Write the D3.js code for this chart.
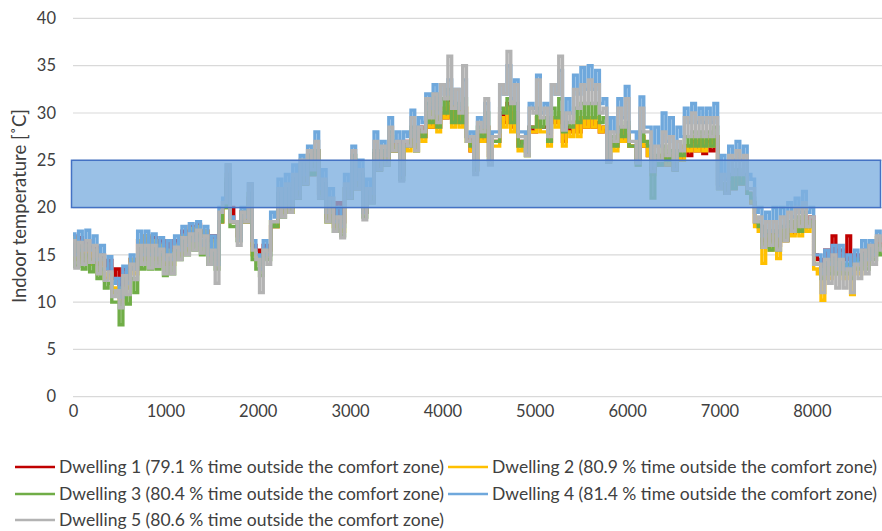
<!DOCTYPE html>
<html>
<head>
<meta charset="utf-8">
<script src="https://cdn.jsdelivr.net/npm/d3@7/dist/d3.min.js"></script>
<style>
  html, body { margin: 0; padding: 0; background: #fff; }
  svg { display: block; }
  text { font-family: Lato, "Open Sans", sans-serif; fill: #404040; }
</style>
</head>
<body>
<svg id="chart" width="882" height="531"></svg>
<script>
// Indoor temperature over one year for five dwellings (°C, one value every 40 h)
const yTicks = [0, 5, 10, 15, 20, 25, 30, 35, 40];
const xTicks = [0, 1000, 2000, 3000, 4000, 5000, 6000, 7000, 8000];
const comfortZone = [20, 25];
const stepHours = 40;

const seriesNames = [
  "Dwelling 1 (79.1 % time outside the comfort zone)",
  "Dwelling 2 (80.9 % time outside the comfort zone)",
  "Dwelling 3 (80.4 % time outside the comfort zone)",
  "Dwelling 4 (81.4 % time outside the comfort zone)",
  "Dwelling 5 (80.6 % time outside the comfort zone)"
];
const seriesColors = ["#c00000", "#ffc000", "#70ad47", "#6fa8dc", "#b3b3b3"];

const dwelling1 = [
  17.0,15.0,16.8,14.8,16.5,14.5,15.8,14.0,15.0,13.5,14.4,12.5,13.5,11.8,13.5,12.5,14.5,13.5,16.5,15.0,
  17.0,15.5,16.8,15.5,16.5,15.0,16.5,15.5,16.5,16.0,17.5,16.0,18.0,17.0,18.2,17.0,17.5,16.5,17.0,16.5,
  18.5,20.5,22.5,20.0,18.5,17.0,19.5,18.5,21.0,16.0,15.5,14.0,16.0,15.5,18.0,18.0,21.0,19.5,22.0,20.0,
  23.0,21.5,24.5,22.5,25.5,23.5,26.0,21.5,22.5,19.0,21.0,18.5,20.5,18.5,22.0,21.0,25.0,22.0,23.5,19.5,
  22.0,21.0,25.7,24.0,26.0,25.0,27.0,26.0,27.0,23.5,27.0,26.5,28.0,27.0,28.5,27.5,29.0,28.5,29.5,28.5,
  30.0,29.5,31.2,29.0,30.5,29.0,30.5,27.5,26.0,24.0,28.0,27.0,28.5,25.5,27.0,27.0,30.0,29.0,31.0,28.5,
  30.0,26.5,27.0,26.0,28.5,28.0,29.5,28.5,28.5,27.0,29.5,29.0,30.0,27.0,28.5,28.0,29.0,28.0,29.5,28.5,
  29.5,28.5,29.0,28.0,28.5,25.0,27.0,26.5,28.0,27.0,28.5,26.5,26.5,24.8,27.5,26.5,25.5,24.0,25.0,24.5,
  25.5,24.5,25.5,24.0,25.5,25.0,26.5,25.5,27.0,26.0,27.0,25.7,27.0,26.0,27.5,22.5,22.5,21.5,23.0,22.0,
  23.0,22.5,23.0,21.5,20.5,18.5,18.0,16.5,17.5,16.5,17.5,16.0,17.5,16.5,18.0,17.3,18.5,17.5,19.0,18.0,
  19.0,15.0,14.5,13.8,15.5,14.5,17.0,14.5,15.5,14.5,17.0,14.0,15.0,14.5,15.5,14.5,16.0,15.0,16.5,16.0];

const dwelling2 = [
  16.8,14.5,16.2,14.2,16.0,14.0,15.5,13.0,14.5,12.5,13.0,11.0,11.5,10.0,12.5,11.5,14.5,13.0,16.5,14.5,
  17.0,15.0,16.5,14.5,16.0,14.0,15.5,14.0,16.0,15.0,17.0,15.5,17.8,16.5,18.0,17.0,17.5,15.0,16.5,14.5,
  18.5,20.0,23.5,18.5,18.5,16.5,19.5,18.5,21.5,15.0,14.5,13.5,15.5,15.0,18.5,18.0,21.5,19.5,22.0,19.5,
  23.0,21.0,24.5,22.5,25.5,23.5,26.0,21.5,22.5,18.5,21.0,18.0,19.0,17.5,22.0,21.0,25.0,22.0,23.5,19.5,
  22.0,21.0,25.5,24.0,26.0,24.5,27.5,26.0,26.5,23.5,26.5,26.0,28.0,26.0,28.0,27.0,30.0,28.5,30.5,28.0,
  30.5,29.5,31.0,28.5,30.5,28.5,30.5,27.0,26.0,24.0,28.0,27.0,28.5,25.0,26.5,26.5,29.5,28.5,30.5,28.0,
  30.0,26.0,26.5,25.5,28.0,28.0,29.5,28.0,28.0,26.5,29.5,28.5,30.0,26.5,28.0,27.5,29.0,27.5,29.5,28.5,
  29.5,28.5,29.5,28.0,28.5,24.8,27.0,26.0,28.0,27.0,28.5,26.5,26.5,24.5,27.5,26.5,25.5,23.5,25.0,24.5,
  25.5,24.5,25.5,24.0,25.5,25.0,26.5,26.0,27.5,26.0,27.5,26.0,27.5,26.5,27.5,22.0,22.5,21.5,23.0,22.0,
  23.5,22.5,23.0,21.5,20.5,18.0,17.5,14.1,17.0,15.5,17.0,14.6,17.5,16.5,18.0,17.0,18.5,17.0,19.0,17.5,
  18.5,13.5,13.0,10.2,13.5,12.5,14.5,13.0,14.0,12.5,13.0,10.8,13.5,13.0,15.0,14.0,16.0,15.0,16.8,16.5];

const dwelling3 = [
  16.0,13.8,15.5,13.5,15.0,13.2,14.5,12.5,13.5,11.5,12.0,10.0,10.0,7.6,10.5,9.8,12.5,11.0,15.0,13.5,
  15.5,13.5,15.5,13.5,15.0,12.8,14.8,13.0,15.5,14.5,16.5,15.0,17.0,15.5,17.0,15.0,16.5,14.0,15.5,13.5,
  18.5,20.0,23.0,18.0,18.0,16.5,19.5,18.5,21.5,14.5,13.5,12.8,15.0,14.5,18.5,18.0,21.5,19.0,22.0,19.5,
  23.0,21.0,24.5,22.5,25.5,23.5,26.0,21.0,22.5,18.5,20.5,17.5,18.5,17.0,22.0,21.0,25.5,22.0,23.5,19.0,
  21.5,20.5,26.0,24.0,26.0,24.5,28.0,26.0,26.5,23.0,26.5,26.5,28.5,26.0,28.0,27.5,31.0,29.0,32.0,28.5,
  31.5,30.0,32.5,29.0,31.0,29.0,31.5,27.0,26.5,24.0,28.5,27.5,30.0,25.0,27.0,27.0,30.5,30.0,31.5,29.0,
  31.0,26.5,27.0,25.5,28.5,28.5,30.5,28.5,29.5,27.0,30.5,29.5,31.5,28.0,29.0,28.5,30.5,29.0,31.0,29.5,
  31.0,29.5,31.0,29.0,29.5,24.8,27.5,26.5,28.5,27.5,29.0,26.5,26.5,24.5,28.0,27.0,26.5,21.0,25.5,24.5,
  26.5,25.0,26.0,24.0,26.0,25.5,27.5,26.5,28.0,26.5,28.0,26.5,28.0,26.5,28.5,22.0,22.5,21.5,23.5,22.0,
  24.0,22.5,23.5,21.5,21.0,18.5,18.0,15.8,17.5,15.5,17.5,15.5,18.0,16.5,18.5,17.5,19.0,17.5,19.5,18.0,
  18.5,14.0,14.0,12.5,14.5,13.0,14.5,13.0,14.5,13.0,14.0,12.5,14.5,13.5,15.0,13.5,15.5,14.5,16.0,15.0];

const dwelling4 = [
  17.2,15.0,17.5,15.5,17.6,15.5,17.0,14.5,16.0,13.5,14.8,12.0,12.5,10.5,13.8,12.0,15.0,13.5,17.5,15.0,
  17.5,15.0,17.2,15.0,16.8,14.5,16.5,14.5,17.0,15.5,18.0,16.0,18.3,16.5,18.5,16.0,18.0,15.0,17.0,14.0,
  20.0,21.0,24.5,19.0,18.5,16.5,20.0,19.0,22.5,16.5,15.0,13.5,16.5,15.0,19.5,19.0,23.0,20.0,23.5,20.5,
  24.5,22.0,25.5,23.5,26.5,25.0,28.0,22.0,24.0,19.5,22.0,18.5,20.0,18.0,23.5,22.0,26.5,23.0,25.0,19.5,
  23.0,21.5,28.0,25.0,27.0,25.5,29.5,27.0,28.0,23.5,28.0,27.5,30.3,27.0,29.5,29.0,32.0,30.5,33.0,30.0,
  33.0,32.0,33.5,31.0,32.5,30.5,33.5,27.5,28.0,24.5,29.5,28.5,31.0,25.0,28.0,28.0,33.0,32.0,35.0,31.5,
  33.5,28.0,28.0,26.0,31.0,30.5,34.0,30.0,31.0,28.0,33.0,32.0,34.5,28.5,31.5,30.0,34.0,32.0,34.8,32.5,
  35.0,32.5,34.5,31.0,31.5,25.0,29.5,28.0,31.5,29.5,32.8,28.0,28.0,25.0,31.7,28.5,28.5,24.5,28.5,26.5,
  30.0,27.0,29.5,25.0,28.5,27.5,30.5,29.0,31.0,29.0,30.5,29.0,30.5,29.0,31.0,22.5,25.5,23.0,26.5,25.0,
  27.0,25.0,26.5,23.5,23.0,19.5,20.0,17.0,19.5,17.5,20.0,17.0,20.0,18.0,20.5,19.0,21.0,19.5,21.7,19.5,
  20.0,15.0,15.0,13.0,15.5,14.0,16.0,13.5,16.0,13.5,15.0,13.0,15.5,14.0,16.5,14.5,16.5,15.0,17.5,16.5];

const dwelling5 = [
  16.5,13.6,16.3,14.0,16.5,14.2,16.0,13.0,15.0,12.3,13.2,10.6,11.2,9.4,12.8,10.8,14.0,12.4,16.0,14.0,
  16.0,13.6,16.0,13.8,15.6,13.0,15.0,13.0,15.8,14.5,16.8,15.0,17.2,15.5,17.6,15.2,17.0,14.0,15.5,12.0,
  19.5,20.5,24.5,18.5,18.5,16.0,19.5,18.5,22.5,15.5,14.5,11.0,15.5,14.0,18.5,18.5,22.0,19.0,22.5,19.5,
  23.5,21.0,25.0,22.5,26.0,24.0,27.0,21.0,23.0,18.5,21.0,17.5,19.0,16.8,22.5,21.0,26.0,22.0,24.0,18.7,
  22.0,20.5,27.0,24.0,26.5,24.5,28.5,26.0,27.0,22.8,27.0,26.5,29.5,26.0,28.5,28.0,31.5,29.5,32.0,29.0,
  33.0,31.5,36.0,30.5,32.5,30.0,35.0,27.0,27.5,23.5,29.0,28.0,31.5,24.5,27.5,27.5,33.0,32.0,36.5,31.0,
  33.0,27.5,27.5,25.5,30.5,30.0,33.5,29.5,30.5,27.5,33.0,32.0,36.0,28.2,30.0,29.0,32.5,30.5,33.0,31.0,
  33.5,31.0,33.0,30.0,30.5,24.8,28.0,27.0,30.5,28.5,31.5,27.0,27.0,24.7,30.5,28.0,28.0,23.8,26.5,25.0,
  28.0,25.5,27.5,24.0,27.0,26.0,29.5,27.5,30.0,27.5,29.5,27.5,29.5,27.5,29.5,22.0,23.5,21.5,25.5,23.5,
  26.0,23.5,25.5,22.0,22.0,18.5,19.0,15.8,18.5,16.0,18.5,15.5,19.0,16.5,19.5,17.5,20.0,18.0,20.5,18.0,
  19.0,14.0,14.0,11.0,14.5,12.0,15.0,11.5,14.5,11.5,13.5,11.0,14.0,12.5,15.5,13.0,16.0,14.0,17.0,15.5];

const seriesValues = [dwelling1, dwelling2, dwelling3, dwelling4, dwelling5];

const svg = d3.select("#chart");
const plot = { left: 73, right: 882, top: 18.4, bottom: 396.7 };
const fontStack = "Lato, 'Open Sans', sans-serif";

const x = d3.scaleLinear().domain([0, 8760]).range([plot.left, plot.right]);
const y = d3.scaleLinear().domain([0, 40]).range([plot.bottom, plot.top]);

// Horizontal gridlines
svg.append("g")
  .selectAll("line")
  .data(yTicks)
  .join("line")
  .attr("x1", plot.left).attr("x2", plot.right)
  .attr("y1", d => y(d)).attr("y2", d => y(d))
  .attr("stroke", "#d9d9d9").attr("stroke-width", 1.2);

// Y axis tick labels
const yAxis = d3.axisLeft(y).tickValues(yTicks).tickSize(0).tickPadding(0);
svg.append("g")
  .attr("transform", `translate(${plot.left - 17},0)`)
  .call(yAxis)
  .call(g => g.select(".domain").remove())
  .call(g => g.selectAll("text").style("font-size", "16.5px").attr("fill", "#404040")
    .style("font-family", fontStack));

// X axis tick labels
const xAxis = d3.axisBottom(x).tickValues(xTicks).tickFormat(d3.format("d")).tickSize(0).tickPadding(0);
svg.append("g")
  .attr("transform", `translate(0,${plot.bottom + 9})`)
  .call(xAxis)
  .call(g => g.select(".domain").remove())
  .call(g => g.selectAll("text").style("font-size", "16.5px").attr("fill", "#404040")
    .style("font-family", fontStack));

// Y axis title
svg.append("text")
  .attr("transform", `translate(26,206) rotate(-90)`)
  .attr("text-anchor", "middle")
  .style("font-size", "18.5px")
  .text("Indoor temperature [˚C]");

// Temperature lines as stepped traces (series 1 drawn first, series 5 on top)
const line = d3.line()
  .curve(d3.curveStep)
  .x(d => x(d.h))
  .y(d => y(d.v));

seriesValues.forEach((vals, k) => {
  const pts = vals.map((v, i) => ({ h: i * stepHours, v }));
  svg.append("path")
    .datum(pts)
    .attr("fill", "none")
    .attr("stroke", seriesColors[k])
    .attr("stroke-width", 3.4)
    .attr("stroke-linejoin", "miter")
    .attr("d", line);
});

// Comfort zone band, translucent over the lines
svg.append("rect")
  .attr("x", x(0) - 1.5)
  .attr("y", y(comfortZone[1]))
  .attr("width", x(8760) - x(0))
  .attr("height", y(comfortZone[0]) - y(comfortZone[1]))
  .attr("fill", "#7fb0e0")
  .attr("fill-opacity", 0.8)
  .attr("stroke", "#4472c4")
  .attr("stroke-width", 1.5);

// Legend
const legendItems = [
  { i: 0, col: 0, row: 0 }, { i: 1, col: 1, row: 0 },
  { i: 2, col: 0, row: 1 }, { i: 3, col: 1, row: 1 },
  { i: 4, col: 0, row: 2 }
];
const colX = [15, 448];
const rowY = [467, 494, 520];
const legend = svg.append("g");
legendItems.forEach(it => {
  const g = legend.append("g").attr("transform", `translate(${colX[it.col]},${rowY[it.row]})`);
  g.append("line").attr("x1", 0).attr("x2", 40).attr("y1", 0).attr("y2", 0)
    .attr("stroke", seriesColors[it.i]).attr("stroke-width", 2.4);
  g.append("text").attr("x", 44).attr("y", 0).attr("dy", "0.35em")
    .style("font-size", "17.5px").text(seriesNames[it.i]);
});
</script>
</body>
</html>
